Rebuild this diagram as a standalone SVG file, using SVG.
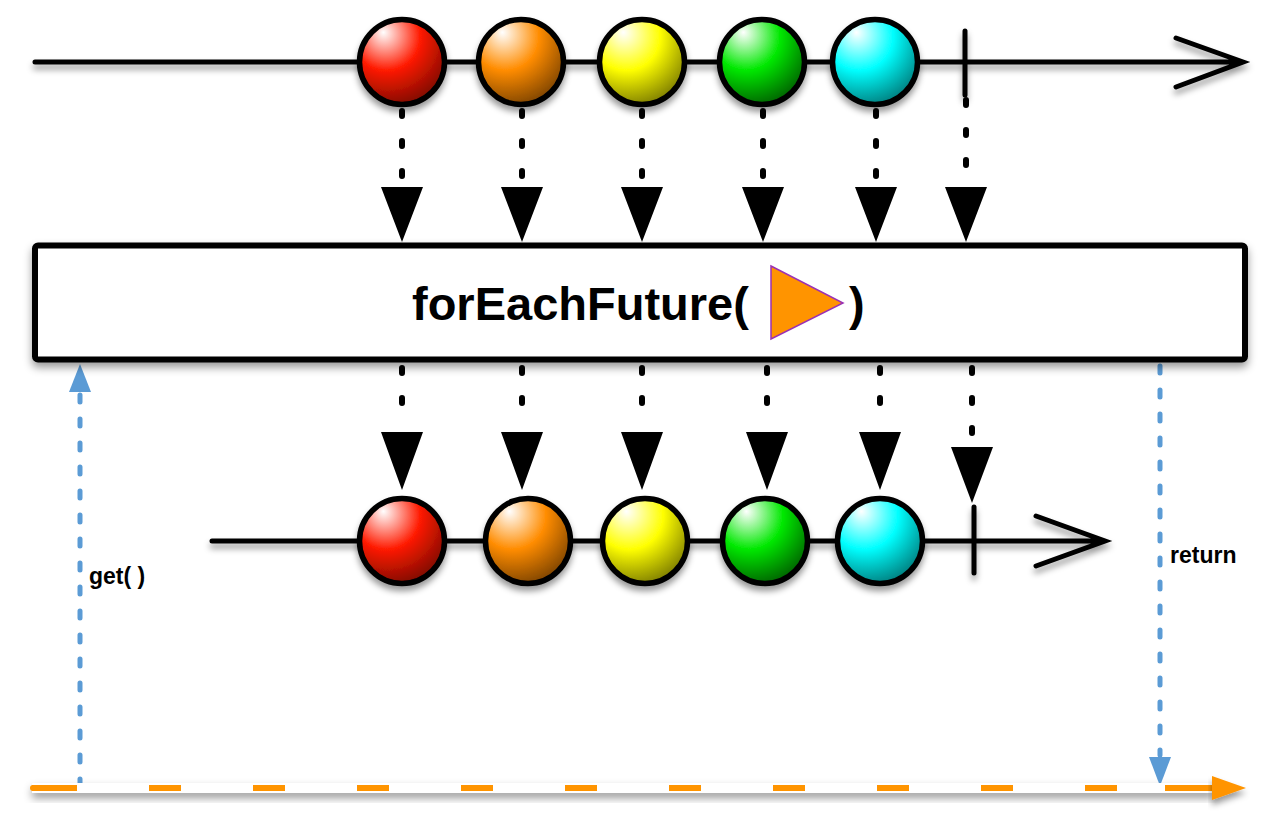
<svg xmlns="http://www.w3.org/2000/svg" width="1280" height="830" viewBox="0 0 1280 830">
<style>
.tl{stroke:#000;stroke-width:5;fill:none;stroke-linecap:round;stroke-linejoin:miter}
.mb{stroke:#000;stroke-width:5.5}
.dot{stroke:#000;stroke-width:6;fill:none;stroke-linecap:round;stroke-dasharray:5 25}
.ah{fill:#000}
.bl{stroke:#5b9bd5;stroke-width:5;fill:none;stroke-linecap:round;stroke-dasharray:7 17}
.bah{fill:#5b9bd5}
.lbl{font-family:"Liberation Sans",Arial,sans-serif;font-weight:bold;fill:#000}
</style>
<defs>
<filter id="sh" x="-10%" y="-30%" width="120%" height="180%">
<feDropShadow dx="0" dy="5" stdDeviation="3" flood-color="#000" flood-opacity="0.4"/>
</filter>
<filter id="shb" x="-5%" y="-50%" width="110%" height="250%">
<feDropShadow dx="0" dy="5" stdDeviation="4" flood-color="#000" flood-opacity="0.4"/>
</filter>
<radialGradient id="gR" cx="35%" cy="25%" r="80%" fx="28%" fy="15%"><stop offset="0" stop-color="#fff"/><stop offset="0.5" stop-color="#ff1a00"/><stop offset="1" stop-color="#7a0a00"/></radialGradient>
<radialGradient id="gO" cx="35%" cy="25%" r="80%" fx="28%" fy="15%"><stop offset="0" stop-color="#fff"/><stop offset="0.5" stop-color="#ff8c00"/><stop offset="1" stop-color="#7a4200"/></radialGradient>
<radialGradient id="gY" cx="35%" cy="25%" r="80%" fx="28%" fy="15%"><stop offset="0" stop-color="#fff"/><stop offset="0.5" stop-color="#ffff00"/><stop offset="1" stop-color="#7a7a00"/></radialGradient>
<radialGradient id="gG" cx="35%" cy="25%" r="80%" fx="28%" fy="15%"><stop offset="0" stop-color="#fff"/><stop offset="0.5" stop-color="#00e800"/><stop offset="1" stop-color="#005e00"/></radialGradient>
<radialGradient id="gC" cx="35%" cy="25%" r="80%" fx="28%" fy="15%"><stop offset="0" stop-color="#fff"/><stop offset="0.5" stop-color="#00ffff"/><stop offset="1" stop-color="#007a7a"/></radialGradient>
</defs>
<rect width="1280" height="830" fill="#fff"/>

<g id="connectors">
<path class="dot" d="M402 111V185M522 111V185M642 111V185M763 111V185M876 111V185M966 100V185"/>
<path class="ah" d="M381 187H423L402 242ZM501 187H543L522 242ZM621 187H663L642 242ZM742 187H784L763 242ZM855 187H897L876 242ZM945 187H987L966 242Z"/>
<path class="dot" d="M402 368V428M522 368V428M642 368V428M767 368V428M880 368V428M972 368V443"/>
<path class="ah" d="M381 432H423L402 490ZM501 432H543L522 490ZM621 432H663L642 490ZM746 432H788L767 490ZM859 432H901L880 490ZM951 447H993L972 503Z"/>
<path class="bl" d="M80 786V394"/>
<path class="bah" d="M69 392H91L80 364Z"/>
<path class="bl" d="M1160 366V755"/>
<path class="bah" d="M1149 757H1171L1160 786Z"/>
</g>

<g id="top-timeline" filter="url(#sh)">
<path class="tl" d="M35 62H1243M1176 38L1243 62L1176 87"/>
<path class="tl" d="M965 31V95"/>
</g>
<g id="top-marbles" filter="url(#sh)">
<circle id="t-red" class="mb" cx="402" cy="62" r="42.5" fill="url(#gR)"/>
<circle id="t-orange" class="mb" cx="521" cy="62" r="42.5" fill="url(#gO)"/>
<circle id="t-yellow" class="mb" cx="642" cy="62" r="42.5" fill="url(#gY)"/>
<circle id="t-green" class="mb" cx="762" cy="62" r="42.5" fill="url(#gG)"/>
<circle id="t-cyan" class="mb" cx="875" cy="62" r="42.5" fill="url(#gC)"/>
</g>

<g id="operator-box">
<rect x="35" y="245.5" width="1210" height="114" rx="3" fill="#fff" stroke="#000" stroke-width="6" filter="url(#shb)"/>
<text class="lbl" x="412" y="320" font-size="47">forEachFuture(</text>
<path d="M771 266L843 303L771 339Z" fill="#ff9400" stroke="#9b32b4" stroke-width="1.5"/>
<text class="lbl" x="849" y="320" font-size="47">)</text>
</g>

<g id="bottom-timeline" filter="url(#sh)">
<path class="tl" d="M212 541H1105M1036 516L1105 541L1036 566"/>
<path class="tl" d="M974 507V573"/>
</g>
<g id="bottom-marbles" filter="url(#sh)">
<circle id="b-red" class="mb" cx="402" cy="541" r="42.5" fill="url(#gR)"/>
<circle id="b-orange" class="mb" cx="528" cy="541" r="42.5" fill="url(#gO)"/>
<circle id="b-yellow" class="mb" cx="645" cy="541" r="42.5" fill="url(#gY)"/>
<circle id="b-green" class="mb" cx="765" cy="541" r="42.5" fill="url(#gG)"/>
<circle id="b-cyan" class="mb" cx="880" cy="541" r="42.5" fill="url(#gC)"/>
</g>

<g id="future-timeline">
<rect x="32" y="783" width="1182" height="10" fill="#fff" filter="url(#shb)"/>
<path d="M32 788H77M149 788H181M253 788H285M357 788H389M461 788H493M565 788H597M669 788H701M773 788H805M877 788H909M981 788H1013M1085 788H1117M1165 788H1214" stroke="#ff9400" stroke-width="6" fill="none"/>
<path d="M1212 776L1246 788L1212 800Z" fill="#ff9400" filter="url(#sh)"/>
<circle cx="33" cy="788" r="3" fill="#ff9400"/>
</g>

<g id="labels">
<text class="lbl" x="89" y="584" font-size="23">get( )</text>
<text class="lbl" x="1170" y="563" font-size="23">return</text>
</g>
</svg>
